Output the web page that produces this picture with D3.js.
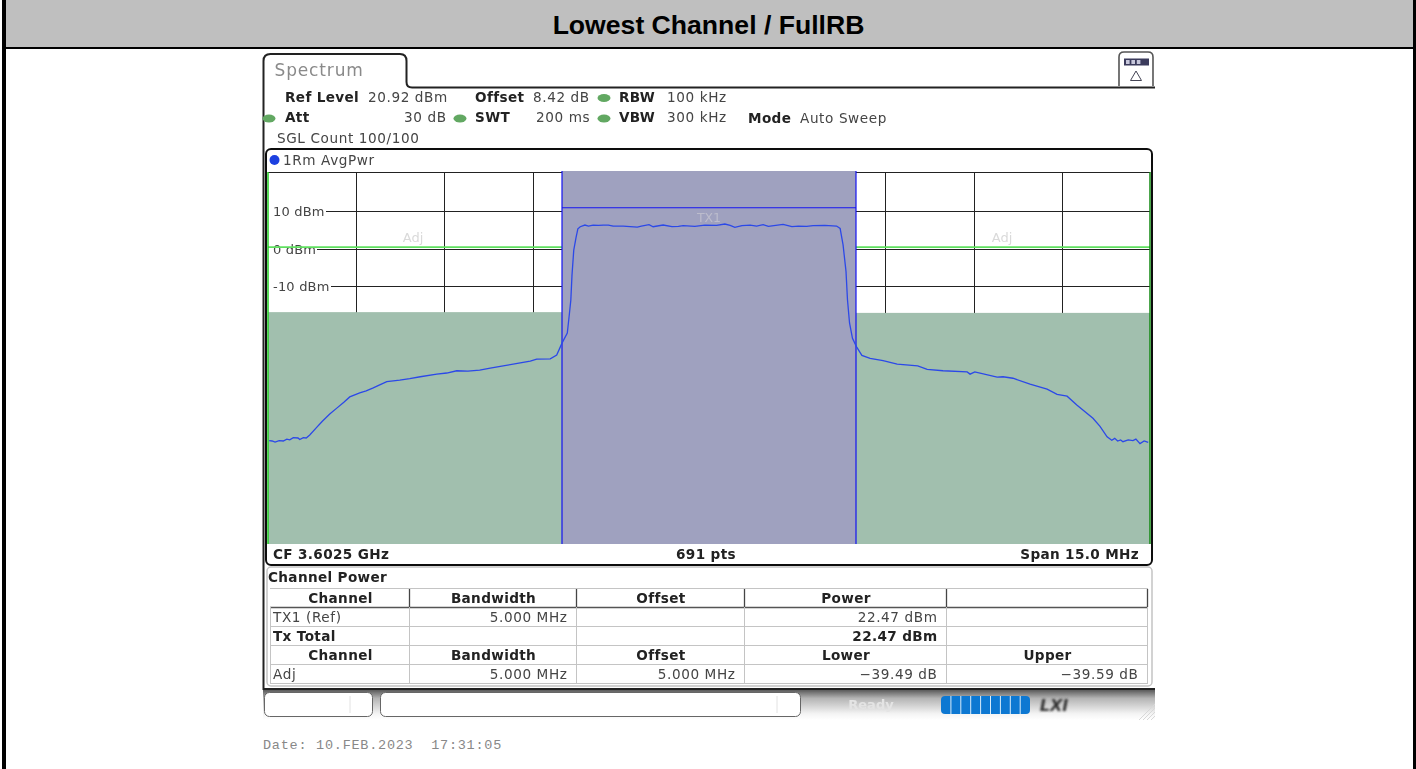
<!DOCTYPE html>
<html><head><meta charset="utf-8">
<script src="https://cdn.jsdelivr.net/npm/d3@7"></script>
<style>html,body{margin:0;padding:0;background:#fff;overflow:hidden}svg{display:block}
text{font-family:"DejaVu Sans",sans-serif;fill:#333;white-space:pre}</style>
</head><body><svg id="c" width="1416" height="769"></svg>
<script>
// ---- data ----
const title = "Lowest Channel / FullRB";
const freqOffsetMHz = [-7.48,-7.43,-7.38,-7.31,-7.24,-7.18,-7.13,-7.07,-6.99,-6.96,-6.9,-6.85,-6.79,-6.68,-6.58,-6.45,-6.33,-6.21,-6.11,-5.94,-5.83,-5.71,-5.6,-5.48,-5.26,-5.09,-4.91,-4.63,-4.46,-4.29,-4.1,-3.9,-3.72,-3.5,-3.21,-3.04,-2.93,-2.7,-2.59,-2.5,-2.41,-2.38,-2.35,-2.33,-2.3,-2.26,-2.23,-2.19,-2.11,-2.05,-1.97,-1.88,-1.8,-1.71,-1.63,-1.46,-1.22,-1.15,-1.02,-0.95,-0.78,-0.63,-0.52,-0.44,-0.24,-0.07,0.13,0.27,0.36,0.44,0.56,0.7,0.81,0.92,1.01,1.26,1.41,1.52,1.66,1.77,1.97,2.17,2.23,2.28,2.33,2.355,2.39,2.44,2.51,2.6,2.74,2.96,3.2,3.55,3.71,3.98,4.39,4.44,4.52,4.9,5.0,5.17,5.46,5.75,5.92,6.09,6.26,6.53,6.65,6.77,6.85,6.9,6.95,7.0,7.04,7.13,7.21,7.26,7.33,7.4,7.47];
const traceDbm = [-51.4,-51.5,-51.8,-51.4,-51.5,-51.0,-51.2,-50.6,-50.7,-51.1,-50.6,-50.7,-49.9,-48.0,-46.3,-44.3,-42.7,-41.1,-39.7,-38.6,-38.1,-37.3,-36.5,-35.6,-35.2,-34.8,-34.3,-33.6,-33.3,-32.7,-32.8,-32.5,-32.0,-31.4,-30.6,-30.1,-29.6,-29.5,-28.5,-25.3,-22.6,-18.3,-13.8,-7.1,-0.4,3.1,5.3,5.87,6.32,6.05,6.32,6.23,6.32,6.32,6.05,6.05,5.78,6.05,6.41,5.87,6.32,5.87,5.96,6.14,5.96,6.32,6.23,6.59,6.23,5.69,6.14,6.32,6.05,6.41,5.96,6.5,5.87,6.05,5.96,6.14,6.23,6.05,5.43,1.0,-6.1,-13.7,-19.9,-24.0,-26.3,-28.6,-29.4,-30.0,-30.9,-31.4,-32.3,-32.7,-33.0,-33.6,-33.0,-34.4,-34.3,-34.7,-36.3,-37.6,-39.0,-39.5,-41.9,-45.4,-47.6,-50.4,-51.3,-50.8,-51.5,-51.2,-51.7,-51.2,-51.4,-51.0,-52.2,-51.5,-51.9];
const refLevel = 20.92, rangeDb = 100, spanMHz = 15, gridDivs = 10;
const yTicks = [10, 0, -10];
const txChannel = [-2.5, 2.5];
const adjChannels = [[-7.5,-2.5],[2.5,7.5]];
const txLimitDbm = 10.95, adjLimitDbm = 0.4, adjFillTopDbm = -17.0;
const adjFillTopRight = -17.2;
const headerRows = [
 [["Ref Level",285,97,1],["20.92 dBm",368,97,0],["Offset",475,97,1],["8.42 dB",533,97,0],["RBW",619,97,1],["100 kHz",667,97,0]],
 [["Att",285,117,1],["30 dB",404,117,0],["SWT",475,117,1],["200 ms",536,117,0],["VBW",619,117,1],["300 kHz",667,117,0],["Mode",748,118,1],["Auto Sweep",800,118,0]],
 [["SGL Count 100/100",277,137.5,0]]
];
const tableCols = [271,410,577,745,947,1148];
const tableRows = [
 {b:true,h:true,c:["Channel","Bandwidth","Offset","Power",""]},
 {c:["TX1 (Ref)","5.000 MHz","","22.47 dBm",""]},
 {b:true,c:["Tx Total","","","22.47 dBm",""]},
 {b:true,h:true,c:["Channel","Bandwidth","Offset","Lower","Upper"]},
 {c:["Adj","5.000 MHz","5.000 MHz","-39.49 dB","-39.59 dB"]}
];
const tableRowY = [588,607,626,645,664,683];

// ---- drawing ----
const svg = d3.select("#c");
const x = d3.scaleLinear().domain([-spanMHz/2, spanMHz/2]).range([268, 1150]);
const y = d3.scaleLinear().domain([refLevel, refLevel-rangeDb]).range([170.5, 544]);
const R = (n)=>Math.round(n)+.5;
const defs = svg.append("defs");
defs.append("filter").attr("id","soft").append("feGaussianBlur").attr("stdDeviation",.4);
defs.append("filter").attr("id","logo").append("feGaussianBlur").attr("stdDeviation",.9);
const gr = defs.append("linearGradient").attr("id","stat").attr("x1",0).attr("x2",0).attr("y1",0).attr("y2",1);
gr.append("stop").attr("offset",0).attr("stop-color","#505050");
gr.append("stop").attr("offset",.3).attr("stop-color","#b4b4b4");
gr.append("stop").attr("offset",.8).attr("stop-color","#f4f4f4");
gr.append("stop").attr("offset",1).attr("stop-color","#ffffff");
const txt = (sel,b)=>sel.style("font-size","13.6px").style("letter-spacing",b?".35px":".6px").style("font-weight",b?"bold":"normal").style("fill",b?"#222":"#444");

// page frame & title
svg.append("rect").attr("x",6).attr("y",0).attr("width",1407).attr("height",47).attr("fill","#bfbfbf");
svg.append("rect").attr("x",2).attr("y",0).attr("width",4).attr("height",769).attr("fill","#000");
svg.append("rect").attr("x",1413).attr("y",0).attr("width",3).attr("height",769).attr("fill","#000");
svg.append("rect").attr("x",6).attr("y",47).attr("width",1407).attr("height",2).attr("fill","#000");
svg.append("text").attr("x",708.5).attr("y",34).attr("text-anchor","middle")
  .style("font-family","'Liberation Sans',Arial,sans-serif").style("font-weight","bold").style("font-size","26.6px").style("fill","#000").text(title);

const g = svg.append("g").attr("filter","url(#soft)");
// tab outline
g.append("path").attr("d","M263.5,690V61q0-7 7-7H400q6.5,0 6.5,7V82q0,5.5 5.5,5.5H1155").attr("fill","none").attr("stroke","#222").attr("stroke-width",2);
g.append("text").attr("x",274.5).attr("y",75.5).style("font-size","17px").style("letter-spacing",".85px").style("fill","#8a8a8a").text("Spectrum");
// icon
g.append("path").attr("d","M1119,86V57q0-5 5-5H1148q5,0 5,5V86").attr("fill","#fff").attr("stroke","#555").attr("stroke-width",1.6);
g.append("rect").attr("x",1124).attr("y",58.5).attr("width",25).attr("height",7).attr("fill","#3a3a5c");
g.selectAll(".ic").data([0,1,2]).join("rect").attr("x",d=>1126+d*5.4).attr("y",60).attr("width",3.6).attr("height",4).attr("fill","#c8c8dc");
g.append("path").attr("d","M1136,71L1130.5,80.5H1141.5Z").attr("fill","none").attr("stroke","#445").attr("stroke-width",1);

// header
headerRows.flat().forEach(([t,px,py,b])=>{
  txt(g.append("text").attr("x",px).attr("y",py+5),b).text(t);
});
[[269,118.5],[460,118.5],[604,98],[604,118.5]].forEach(([cx,cy])=>{
  g.append("ellipse").attr("cx",cx).attr("cy",cy).attr("rx",6.5).attr("ry",4).attr("fill","#62a862");
});

// diagram frame
g.append("rect").attr("x",266).attr("y",149).attr("width",886).attr("height",416).attr("rx",5).attr("fill","#fff").attr("stroke","#111").attr("stroke-width",2);
g.append("circle").attr("cx",274.5).attr("cy",160).attr("r",5).attr("fill","#1c3fe0");
txt(g.append("text").attr("x",283).attr("y",164.5),false).text("1Rm AvgPwr");

const plot = svg.append("g").attr("filter","url(#soft)");
// grid
plot.append("line").attr("x1",268).attr("x2",1150).attr("y1",172.5).attr("y2",172.5).attr("stroke","#222");
const xGrid = d3.range(1,gridDivs).map(i=>-spanMHz/2+i*spanMHz/gridDivs);
plot.selectAll(".vg").data(xGrid).join("line").attr("x1",d=>R(x(d))).attr("x2",d=>R(x(d))).attr("y1",172).attr("y2",313).attr("stroke","#222");
// axis labels + horizontal grid
plot.selectAll(".hg").data(yTicks).join("line").attr("x1",d=>d===0?317:d===10?326:331).attr("x2",1150).attr("y1",d=>R(y(d))).attr("y2",d=>R(y(d))).attr("stroke","#222");
plot.selectAll(".yl").data(yTicks).join("text").attr("x",273).attr("y",d=>y(d)+5).style("font-size","13px").style("letter-spacing",".2px").style("fill","#444").text(d=>d+" dBm");
// adjacent labels
[x(-5)-2,x(5)-1].forEach(px=>plot.append("text").attr("x",px).attr("y",242).attr("text-anchor","middle").style("font-size","13px").style("fill","#dadada").text("Adj"));

// limits: adj
const adjColor="#a1bfae", txColor="#9fa1bf";
adjChannels.forEach((c,i)=>{
  const top = i?adjFillTopRight:adjFillTopDbm;
  plot.append("rect").attr("x",x(c[0])).attr("y",y(top)).attr("width",x(c[1])-x(c[0])).attr("height",544-y(top)).attr("fill",adjColor);
  plot.append("line").attr("x1",x(c[0])).attr("x2",x(c[1])).attr("y1",y(adjLimitDbm)).attr("y2",y(adjLimitDbm)).attr("stroke","#5fe05f").attr("stroke-width",1.6);
});
// tx
plot.append("rect").attr("x",x(txChannel[0])).attr("y",171).attr("width",x(txChannel[1])-x(txChannel[0])).attr("height",373).attr("fill",txColor);
txChannel.forEach(c=>plot.append("line").attr("x1",R(x(c))-.5).attr("x2",R(x(c))-.5).attr("y1",171).attr("y2",544).attr("stroke","#1414f0").attr("stroke-width",1.2));
plot.append("line").attr("x1",x(txChannel[0])).attr("x2",x(txChannel[1])).attr("y1",y(txLimitDbm)).attr("y2",y(txLimitDbm)).attr("stroke","#1414f0").attr("stroke-width",1.2);
plot.append("text").attr("x",x(0)).attr("y",222).attr("text-anchor","middle").style("font-size","12.5px").style("fill","#bcbccc").text("TX1");
// green side lines
plot.append("line").attr("x1",268).attr("x2",268).attr("y1",172).attr("y2",544).attr("stroke","#22cc22").attr("stroke-width",1.5);
plot.append("line").attr("x1",1150).attr("x2",1150).attr("y1",172).attr("y2",544).attr("stroke","#118811").attr("stroke-width",1.5);
// trace
const line = d3.line().x(d=>x(d[0])).y(d=>y(d[1]));
plot.append("path").datum(d3.zip(freqOffsetMHz,traceDbm)).attr("d",line).attr("fill","none").attr("stroke","#2c48e8").attr("stroke-width",1.3);

// footer of diagram
[["CF 3.6025 GHz",273,"start"],["691 pts",706,"middle"],["Span 15.0 MHz",1139,"end"]].forEach(([t,px,a])=>{
  txt(g.append("text").attr("x",px).attr("y",558.5).attr("text-anchor",a),true).text(t);
});

// table panel
g.append("rect").attr("x",267).attr("y",567).attr("width",885).attr("height",119).attr("rx",4).attr("fill","#fff").attr("stroke","#c4c4c4").attr("stroke-width",1.5);
txt(g.append("text").attr("x",268).attr("y",581.5),true).text("Channel Power");
const tb = g.append("g");
tableRowY.forEach((ry,i)=>{
  tb.append("line").attr("x1",270).attr("x2",1148).attr("y1",ry+.5).attr("y2",ry+.5).attr("stroke",i==1?"#555":"#c4c4c4").attr("stroke-width",i==1?1.5:1);
});
tableCols.forEach((cx,i)=>{
  tb.append("line").attr("x1",cx-.5).attr("x2",cx-.5).attr("y1",607).attr("y2",683).attr("stroke","#c4c4c4");
  if(i>0) tb.append("line").attr("x1",cx-.5).attr("x2",cx-.5).attr("y1",589).attr("y2",607).attr("stroke","#444").attr("stroke-width",1.3);
});
tableRows.forEach((row,ri)=>{
  const ty = tableRowY[ri+1]-4.5;
  row.c.forEach((t,ci)=>{
    if(!t) return;
    const L=tableCols[ci],Rt=tableCols[ci+1];
    let px,a;
    if(row.h){px=(L+Rt)/2;a="middle";}
    else if(ci==0){px=L+2;a="start";}
    else {px=Rt-9.5;a="end";}
    txt(tb.append("text").attr("x",px).attr("y",ty).attr("text-anchor",a),row.b).text(t.replace(/^-/,"\u2212"));
  });
});

// status bar
g.append("rect").attr("x",263).attr("y",689).attr("width",892).attr("height",31).attr("fill","url(#stat)");
g.append("rect").attr("x",263).attr("y",688).attr("width",892).attr("height",2).attr("fill","#222");
g.append("rect").attr("x",264.5).attr("y",692.5).attr("width",108).attr("height",24).attr("rx",5).attr("fill","#fff").attr("stroke","#666");
g.append("rect").attr("x",380.5).attr("y",692.5).attr("width",420).attr("height",24).attr("rx",5).attr("fill","#fff").attr("stroke","#666");
g.append("line").attr("x1",350).attr("x2",350).attr("y1",696).attr("y2",713).attr("stroke","#e2e2e2");
g.append("line").attr("x1",777).attr("x2",777).attr("y1",696).attr("y2",713).attr("stroke","#e2e2e2");
g.append("text").attr("x",871).attr("y",709).attr("text-anchor","middle").style("font-size","13px").style("font-weight","bold").style("fill","#e4e4e4").text("Ready");
g.append("rect").attr("x",941).attr("y",696).attr("width",89).attr("height",18).attr("rx",4).attr("fill","#0f78d2");
d3.range(1,9).forEach(i=>g.append("line").attr("x1",941+i*9.9).attr("x2",941+i*9.9).attr("y1",696).attr("y2",714).attr("stroke","#d8ecfa"));
svg.append("text").attr("x",1054).attr("y",711).attr("text-anchor","middle").attr("filter","url(#logo)").style("font-size","16px").style("font-weight","bold").style("font-style","italic").style("fill","#333").text("LXI");
[0,1,2,3].forEach(i=>g.append("line").attr("x1",1139+i*4).attr("y1",720).attr("x2",1155).attr("y2",704+i*4).attr("stroke","#d8d8d8"));

// date
svg.append("text").attr("x",263).attr("y",749).style("font-family","'Liberation Mono',monospace").style("font-size","13.5px").style("letter-spacing",".75px").style("fill","#888").text("Date: 10.FEB.2023  17:31:05");
</script></body></html>
